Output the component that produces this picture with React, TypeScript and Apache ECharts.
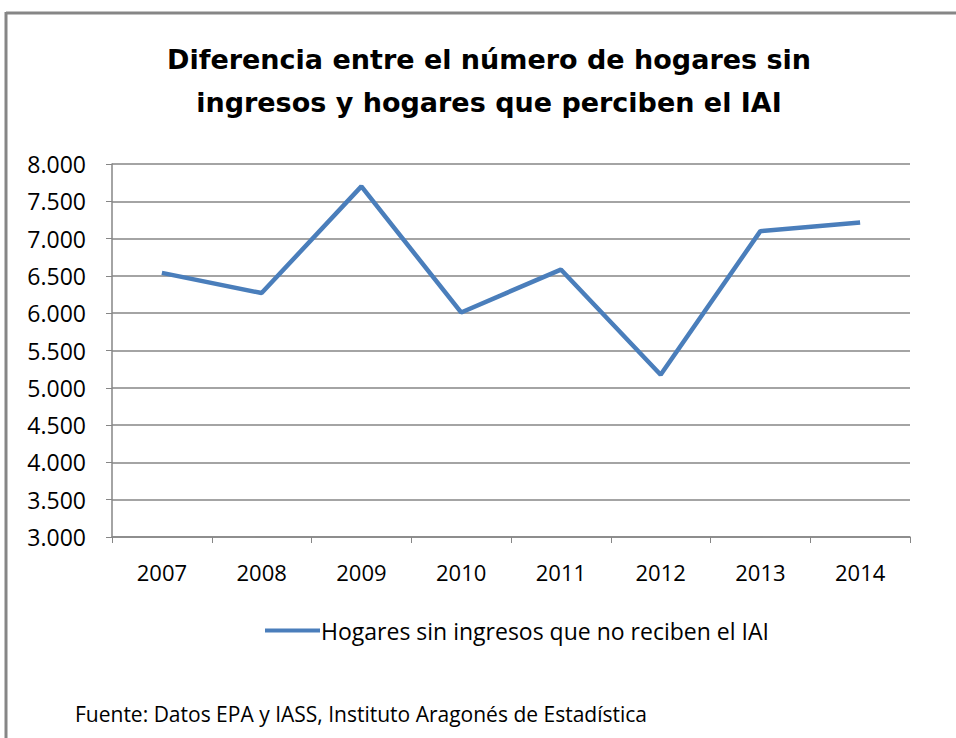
import React, { useEffect, useRef } from "react";
import * as echarts from "echarts";

const categories = ["2007", "2008", "2009", "2010", "2011", "2012", "2013", "2014"];
const values = [6540, 6270, 7700, 6010, 6585, 5175, 7100, 7215];
const seriesName = "Hogares sin ingresos que no reciben el IAI";
const titleText = "Diferencia entre el número de hogares sin\ningresos y hogares que perciben el IAI";
const sourceText = "Fuente: Datos EPA y IASS, Instituto Aragonés de Estadística";

const fmt = (v: number) => {
  const s = String(Math.round(v));
  return s.length > 3 ? s.slice(0, s.length - 3) + "." + s.slice(-3) : s;
};

export default function App() {
  const ref = useRef<HTMLDivElement>(null);
  useEffect(() => {
    if (!ref.current) return;
    const chart = echarts.init(ref.current, null, { renderer: "svg" });
    const font = "'Open Sans', 'Noto Sans', sans-serif";
    chart.setOption({
      animation: false,
      backgroundColor: "#ffffff",
      title: {
        text: titleText,
        left: 484,
        textAlign: "center",
        top: 33,
        textStyle: {
          fontFamily: "'DejaVu Sans', sans-serif",
          fontSize: 27,
          fontWeight: "bold",
          color: "#000",
          lineHeight: 43,
        },
      },
      grid: { left: 112, right: 46, top: 164, bottom: 201, containLabel: false },
      legend: {
        left: 260,
        top: 614,
        icon: "rect",
        itemWidth: 55,
        itemHeight: 4,
        itemGap: 4,
        data: [seriesName],
        textStyle: { fontFamily: font, fontSize: 23, color: "#000", padding: [0, 0, 0, -4] },
      },
      xAxis: {
        type: "category",
        data: categories,
        boundaryGap: true,
        axisLine: { lineStyle: { color: "#868686", width: 1.5 } },
        axisTick: { show: true, length: 6, alignWithLabel: false, lineStyle: { color: "#868686" } },
        axisLabel: { fontFamily: font, fontSize: 22, color: "#000", margin: 24 },
      },
      yAxis: {
        type: "value",
        min: 3000,
        max: 8000,
        interval: 500,
        axisLine: { show: true, lineStyle: { color: "#868686", width: 1.5 } },
        axisTick: { show: true, length: 6, lineStyle: { color: "#868686" } },
        splitLine: { lineStyle: { color: "#868686", width: 1.5 } },
        axisLabel: { fontFamily: font, fontSize: 23, color: "#000", margin: 26, formatter: fmt },
      },
      series: [
        {
          name: seriesName,
          type: "line",
          data: values,
          symbol: "none",
          lineStyle: { color: "#4a7ebb", width: 4.5 },
          itemStyle: { color: "#4a7ebb" },
        },
      ],
      graphic: [
        { type: "line", shape: { x1: 6, y1: 13, x2: 956, y2: 13 }, style: { stroke: "#868686", lineWidth: 3 } },
        { type: "line", shape: { x1: 6, y1: 12, x2: 6, y2: 738 }, style: { stroke: "#868686", lineWidth: 3 } },
        {
          type: "text",
          left: 75,
          top: 703,
          style: { text: sourceText, fontFamily: font, fontSize: 21, fill: "#000" },
        },
      ],
    });
    return () => chart.dispose();
  }, []);
  return <div ref={ref} style={{ width: 956, height: 738, position: "absolute", left: 0, top: 0 }} />;
}
